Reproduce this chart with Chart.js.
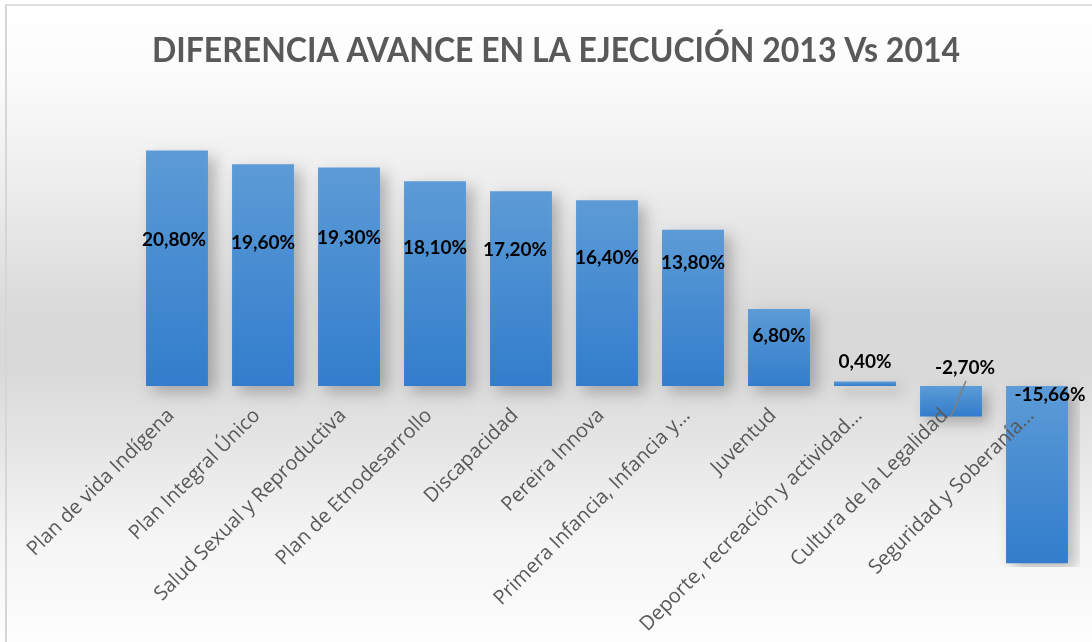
<!DOCTYPE html>
<html>
<head>
<meta charset="utf-8">
<script src="https://cdn.jsdelivr.net/npm/chart.js@4.4.1/dist/chart.umd.min.js"></script>
<style>
  html, body { margin: 0; padding: 0; background: #ffffff; }
  #marco {
    position: absolute; left: 0; top: 0; width: 1092px; height: 642px;
    background: linear-gradient(to bottom, #ffffff 0%, #fbfbfb 12%, #ececec 30%, #dadada 48%, #d9d9d9 58%, #e6e6e6 70%, #f5f5f5 84%, #fdfdfd 100%);
  }
  #borde {
    position: absolute; left: 5px; top: 4px; width: 1100px; height: 700px;
    border-left: 2px solid #d6d6d6; border-top: 2px solid #e0e0e0;
  }
  canvas { position: absolute; left: 0; top: 0; }
</style>
</head>
<body>
<div id="marco"></div>
<div id="borde"></div>
<canvas id="grafico" width="1092" height="642"></canvas>
<script>
const titulo = "DIFERENCIA AVANCE EN LA EJECUCIÓN 2013 Vs 2014";

const programas = [
    "Plan de vida Indígena",
    "Plan Integral Único",
    "Salud Sexual y Reproductiva",
    "Plan de Etnodesarrollo",
    "Discapacidad",
    "Pereira Innova",
    "Primera Infancia, Infancia y…",
    "Juventud",
    "Deporte, recreación y actividad…",
    "Cultura de la Legalidad",
    "Seguridad y Soberanía…"
];

const diferencia = [20.8, 19.6, 19.3, 18.1, 17.2, 16.4, 13.8, 6.8, 0.4, -2.7, -15.66];

const etiquetas = ["20,80%", "19,60%", "19,30%", "18,10%", "17,20%", "16,40%", "13,80%", "6,80%", "0,40%", "-2,70%", "-15,66%"];

// donde va cada etiqueta (en unidades del eje y) y corrimiento horizontal
const etiquetaEnY = [12.9, 12.65, 13.1, 12.2, 12.0, 11.3, 10.9, 4.4, 2.1, 1.6, -0.8];
const etiquetaDx = [-3, 0, 0, 0, -6, 0, 0, 0, 0, 14, 13];

function colorBarra(c) {
    const chart = c.chart;
    const y = chart.scales.y;
    if (!chart.chartArea || !y || c.raw === undefined) {
        return '#4a8fd3';
    }
    const a = y.getPixelForValue(Math.max(c.raw, 0));
    const b = y.getPixelForValue(Math.min(c.raw, 0));
    const g = chart.ctx.createLinearGradient(0, a, 0, b + 0.01);
    g.addColorStop(0, '#5c9bd6');
    g.addColorStop(1, '#327dcc');
    return g;
}

const sombras = {
    id: 'sombras',
    beforeDatasetsDraw(chart) {
        const ctx = chart.ctx;
        ctx.save();
        ctx.shadowColor = 'rgba(0, 0, 0, 0.25)';
        ctx.shadowBlur = 14;
        ctx.shadowOffsetX = 7;
        ctx.shadowOffsetY = 6;
    },
    afterDatasetsDraw(chart) {
        chart.ctx.restore();
    }
};

// titulo centrado en todo el lienzo (el title de Chart.js se centra en el area con padding)
const encabezado = {
    id: 'encabezado',
    afterDraw(chart) {
        const ctx = chart.ctx;
        ctx.save();
        ctx.font = 'bold 34px Lato, "DejaVu Sans Condensed", sans-serif';
        ctx.fillStyle = '#595959';
        ctx.textAlign = 'center';
        ctx.textBaseline = 'alphabetic';
        const ancho = ctx.measureText(titulo).width;
        const esc = Math.min(1, 808 / ancho);
        ctx.translate(556, 62);
        ctx.scale(esc, 1);
        ctx.fillText(titulo, 0, 0);
        ctx.restore();
    }
};

const rotulos = {
    id: 'rotulos',
    afterDatasetsDraw(chart) {
        const ctx = chart.ctx;
        const y = chart.scales.y;
        const barras = chart.getDatasetMeta(0).data;
        ctx.save();
        ctx.font = 'bold 19px Lato, "Open Sans", sans-serif';
        ctx.fillStyle = '#000000';
        ctx.textAlign = 'center';
        ctx.textBaseline = 'middle';
        barras.forEach(function (barra, i) {
            const px = barra.x + etiquetaDx[i];
            const py = y.getPixelForValue(etiquetaEnY[i]);
            ctx.fillText(etiquetas[i], px, py);
            if (i === 9) {
                // linea guia de la etiqueta -2,70%
                ctx.strokeStyle = '#7f7f7f';
                ctx.lineWidth = 1.5;
                ctx.beginPath();
                ctx.moveTo(px + 1, py + 13);
                ctx.lineTo(barra.x, y.getPixelForValue(diferencia[i]));
                ctx.stroke();
            }
        });
        ctx.restore();
    }
};

const ctx = document.getElementById('grafico').getContext('2d');

new Chart(ctx, {
    type: 'bar',
    data: {
        labels: programas,
        datasets: [{
            data: diferencia,
            backgroundColor: colorBarra,
            borderWidth: 0,
            categoryPercentage: 0.72,
            barPercentage: 1
        }]
    },
    options: {
        responsive: false,
        devicePixelRatio: 1,
        animation: false,
        layout: {
            padding: { left: 134, right: 12, top: 137, bottom: 75 }
        },
        plugins: {
            legend: { display: false },
            tooltip: { enabled: false },
            title: { display: false }
        },
        scales: {
            x: {
                position: { y: 0 },
                grid: { display: false },
                border: { display: false },
                ticks: {
                    z: 1,
                    autoSkip: false,
                    minRotation: 45,
                    maxRotation: 45,
                    color: '#595959',
                    padding: 10,
                    labelOffset: -6,
                    font: { family: '"Open Sans", sans-serif', size: 20 }
                }
            },
            y: {
                display: false,
                min: -16,
                max: 22
            }
        }
    },
    plugins: [sombras, rotulos, encabezado]
});
</script>
</body>
</html>
